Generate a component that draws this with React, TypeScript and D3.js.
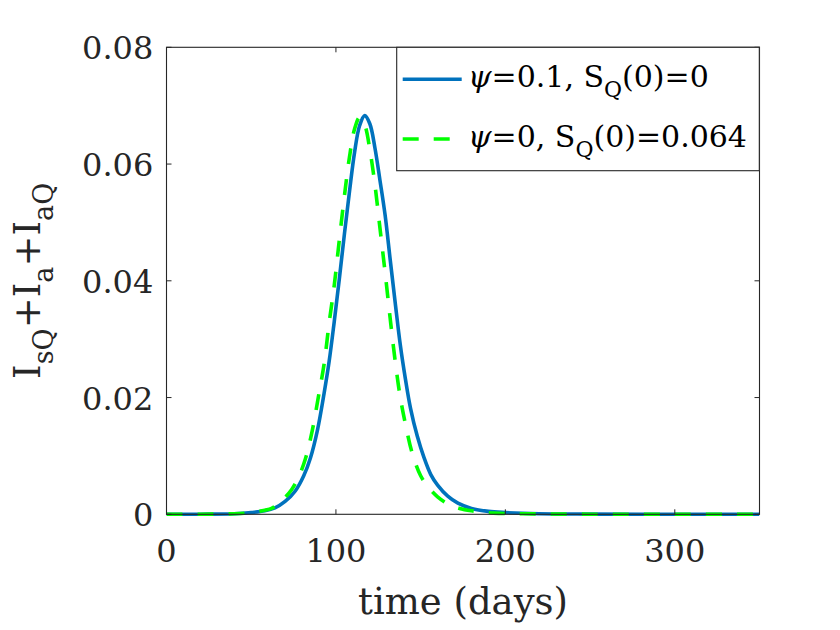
import React from "react";
import * as d3 from "d3";

const timeBlue = [0, 20, 40, 50, 58, 64, 70, 76, 81, 85, 89, 93, 96, 99, 102, 105, 108, 111, 114, 117, 120, 123, 126, 129, 132, 135, 138, 141, 144, 148, 152, 156, 160, 166, 172, 180, 190, 200, 220, 250, 300, 350];
const valBlue = [0, 0.00002, 0.0001, 0.0003, 0.0006, 0.0011, 0.0022, 0.004, 0.0066, 0.0097, 0.0143, 0.0207, 0.0262, 0.033, 0.0403, 0.048, 0.0553, 0.062, 0.0666, 0.0683, 0.0669, 0.0628, 0.0572, 0.0513, 0.0437, 0.0362, 0.029, 0.0232, 0.0182, 0.0134, 0.0097, 0.0068, 0.005, 0.0031, 0.0019, 0.001, 0.0005, 0.0003, 0.0001, 0.00003, 0, 0];

const timeGreen = [0, 20, 40, 50, 58, 62, 68, 74, 78, 82, 86, 90, 93, 96, 99, 102, 105, 108, 111, 114, 117, 120, 123, 126, 129, 132, 135, 138, 141, 145, 150, 155, 160, 166, 173, 180, 193, 210, 250, 300, 350];
const valGreen = [0, 0.00002, 0.0001, 0.0003, 0.0007, 0.001, 0.0023, 0.0043, 0.0064, 0.0095, 0.0143, 0.0207, 0.0257, 0.0328, 0.0392, 0.047, 0.0545, 0.0612, 0.066, 0.068, 0.0667, 0.0625, 0.0565, 0.049, 0.0415, 0.0336, 0.0262, 0.02, 0.0155, 0.0105, 0.0066, 0.0045, 0.003, 0.0018, 0.001, 0.0006, 0.0002, 0.0001, 0.00002, 0, 0];

const xTicks = [0, 100, 200, 300];
const yTicks = [0, 0.02, 0.04, 0.06, 0.08];
const yTickLabels = ["0", "0.02", "0.04", "0.06", "0.08"];

const FONT = "'DejaVu Serif', serif";
const AX = "#262626";

export default function App() {
  const left = 166.5, right = 759.5, top = 47.3, bottom = 514.3;
  const x = d3.scaleLinear().domain([0, 350]).range([left, right]);
  const y = d3.scaleLinear().domain([0, 0.08]).range([bottom, top]);
  const line = d3
    .line<[number, number]>()
    .x((d) => x(d[0]))
    .y((d) => Math.min(y(d[1]), bottom))
    .curve(d3.curveCatmullRom.alpha(0.5));
  const blue = line(timeBlue.map((t, i) => [t, valBlue[i]]) as [number, number][]) || "";
  const green = line(timeGreen.map((t, i) => [t, valGreen[i]]) as [number, number][]) || "";
  const tl = 5;
  const lgX = 396.7, lgY = 47.3, lgW = 362.6, lgH = 123.4;

  return (
    <svg width={840} height={630} style={{ position: "absolute", left: 0, top: 0, background: "#fff" }}>
      <rect x={0} y={0} width={840} height={630} fill="#fff" />
      <defs>
        <clipPath id="clip">
          <rect x={left} y={top - 4} width={right - left} height={bottom - top + 8} />
        </clipPath>
      </defs>
      <g clipPath="url(#clip)">
        <path d={blue} fill="none" stroke="#0072BD" strokeWidth={3.6} />
        <path d={green} fill="none" stroke="#00FF00" strokeWidth={3.6} strokeDasharray="16,15" />
      </g>
      <rect x={left} y={top} width={right - left} height={bottom - top} fill="none" stroke={AX} strokeWidth={1.1} />
      {xTicks.map((t) => (
        <g key={"x" + t}>
          <line x1={x(t)} x2={x(t)} y1={bottom} y2={bottom - tl} stroke={AX} strokeWidth={1} />
          <line x1={x(t)} x2={x(t)} y1={top} y2={top + tl} stroke={AX} strokeWidth={1} />
          <text x={x(t)} y={bottom + 47.4} textAnchor="middle" fontFamily={FONT} fontSize={32} fill={AX}>
            {t}
          </text>
        </g>
      ))}
      {yTicks.map((t, i) => (
        <g key={"y" + t}>
          <line x1={left} x2={left + tl} y1={y(t)} y2={y(t)} stroke={AX} strokeWidth={1} />
          <line x1={right} x2={right - tl} y1={y(t)} y2={y(t)} stroke={AX} strokeWidth={1} />
          <text x={153.3} y={y(t) + 12} textAnchor="end" fontFamily={FONT} fontSize={32} fill={AX}>
            {yTickLabels[i]}
          </text>
        </g>
      ))}
      <text x={(left + right) / 2} y={614} textAnchor="middle" fontFamily={FONT} fontSize={37} fill={AX}>
        time (days)
      </text>
      <text
        transform={`translate(40, ${(top + bottom) / 2}) rotate(-90)`}
        textAnchor="middle"
        fontFamily={FONT}
        fontSize={37}
        fill={AX}
      >
        I<tspan fontSize={27} dy={13}>sQ</tspan>
        <tspan dy={-13}>+I</tspan>
        <tspan fontSize={27} dy={13}>a</tspan>
        <tspan dy={-13}>+I</tspan>
        <tspan fontSize={27} dy={13}>aQ</tspan>
      </text>
      <rect x={lgX} y={lgY} width={lgW} height={lgH} fill="#fff" stroke={AX} strokeWidth={1.1} />
      <line x1={402.7} x2={461.7} y1={79.3} y2={79.3} stroke="#0072BD" strokeWidth={3.6} />
      <line x1={402.7} x2={461.7} y1={139} y2={139} stroke="#00FF00" strokeWidth={3.6} strokeDasharray="16,15" />
      <text x={468} y={87} fontFamily={FONT} fontSize={30} fill="#000">
        <tspan fontStyle="italic">ψ</tspan>=0.1, S<tspan fontSize={22} dy={10}>Q</tspan>
        <tspan dy={-10}>(0)=0</tspan>
      </text>
      <text x={468} y={147} fontFamily={FONT} fontSize={30} fill="#000">
        <tspan fontStyle="italic">ψ</tspan>=0, S<tspan fontSize={22} dy={10}>Q</tspan>
        <tspan dy={-10}>(0)=0.064</tspan>
      </text>
    </svg>
  );
}
